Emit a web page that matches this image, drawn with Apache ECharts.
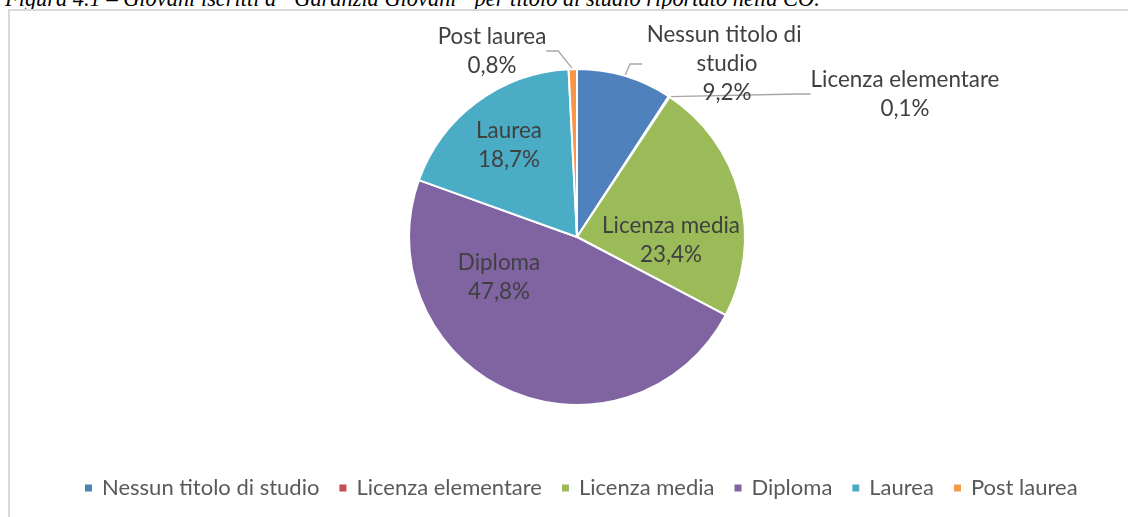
<!DOCTYPE html>
<html lang="it">
<head>
<meta charset="utf-8" />
<title>Giovani iscritti per titolo di studio</title>
<script src="https://cdn.jsdelivr.net/npm/echarts@6/dist/echarts.min.js"></script>
<style>
    body { margin: 0; background: #fff; }
    #wrap { position: relative; width: 1128px; height: 517px; overflow: hidden; }
    #caption { position: absolute; left: 5px; top: -12px; font: italic 22.4px/22px "Liberation Serif", serif; white-space: nowrap; color: #000; }
    #frame { position: absolute; left: 8px; top: 9px; width: 1200px; height: 600px; border: 2px solid #D9D9D9; }
    #main { position: absolute; left: 0; top: 0; width: 1128px; height: 517px; }
</style>
</head>
<body>
<div id="wrap">
    <div id="caption">Figura 4.1 – Giovani iscritti a “Garanzia Giovani” per titolo di studio riportato nella CO.</div>
    <div id="frame"></div>
    <div id="main"></div>
</div>
<script>
    var categorie = ['Nessun titolo di studio', 'Licenza elementare', 'Licenza media', 'Diploma', 'Laurea', 'Post laurea'];
    var quote = [9.2, 0.1, 23.4, 47.8, 18.7, 0.8];
    var colori = ['#4F81BD', '#C0504D', '#9BBB59', '#8064A2', '#4BACC6', '#F79646'];

    // etichette spostate a mano come nel grafico Excel (centro del testo)
    var posEtichette = [[727, 64], [905, 94], [671, 240], [499, 277], [509, 145], [492, 51]];
    var fuori = [true, true, false, false, false, true];

    var myChart = echarts.init(document.getElementById('main'));

    var dati = [];
    for (var i = 0; i < categorie.length; i++) {
        dati.push({
            name: categorie[i],
            value: quote[i],
            itemStyle: { color: colori[i] },
            label: { position: fuori[i] ? 'outside' : 'inside' },
            labelLine: { show: fuori[i] }
        });
    }
    // il nome lungo va a capo come in Excel
    dati[0].label.width = 170;
    dati[0].label.overflow = 'break';

    var option = {
        animation: false,
        legend: {
            data: categorie,
            left: 78,
            top: 470,
            icon: 'rect',
            itemWidth: 9,
            itemHeight: 9,
            itemGap: 18,
            selectedMode: false,
            textStyle: { color: '#595959', fontFamily: 'Lato', fontSize: 22, lineHeight: 26, padding: [0, 0, 0, 4] }
        },
        series: [
            {
                type: 'pie',
                center: [577, 237],
                radius: 168,
                startAngle: 90,
                clockwise: true,
                data: dati,
                itemStyle: { borderColor: '#fff', borderWidth: 2 },
                emphasis: { disabled: true },
                label: {
                    color: '#404040',
                    fontFamily: 'Lato',
                    fontSize: 22.4,
                    lineHeight: 29,
                    formatter: function (p) {
                        return p.name + '\n' + p.value.toFixed(1).replace('.', ',') + '%';
                    }
                },
                labelLine: {
                    length: 20,
                    length2: 12,
                    lineStyle: { color: '#A6A6A6', width: 1.3 }
                },
                labelLayout: function (params) {
                    var p = posEtichette[params.dataIndex];
                    return { x: p[0], y: p[1], align: 'center', verticalAlign: 'middle' };
                }
            }
        ]
    };

    option && myChart.setOption(option);
</script>
</body>
</html>
